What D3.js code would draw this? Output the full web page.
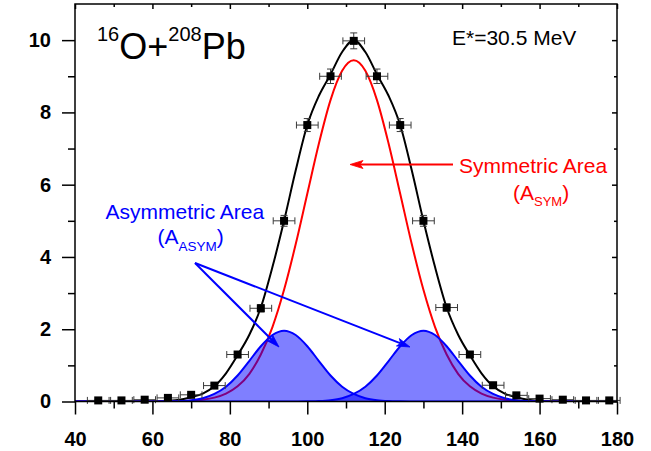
<!DOCTYPE html>
<html>
<head>
<meta charset="utf-8">
<script src="https://cdn.jsdelivr.net/npm/d3@7"></script>
<style>
  html, body { margin: 0; padding: 0; background: #fff; }
  svg { display: block; font-family: "Liberation Sans", Arial, sans-serif; }
</style>
</head>
<body>
<svg id="chart" width="651" height="451"></svg>
<script>
// ---------- data ----------
const xTicks = [40, 60, 80, 100, 120, 140, 160, 180];
const xMinorTicks = [50, 70, 90, 110, 130, 150, 170];
const yTicks = [0, 2, 4, 6, 8, 10];
const yMinorTicks = [1, 3, 5, 7, 9];

const pointX = [46, 52, 58, 64, 70, 76, 82, 88, 94, 100, 106, 112, 118, 124, 130, 136, 142, 148, 154, 160, 166, 172, 178];
const pointY = [0.03, 0.03, 0.05, 0.10, 0.185, 0.44, 1.30, 2.58, 5.0, 7.65, 9.0, 9.98, 9.0, 7.65, 5.0, 2.6, 1.3, 0.45, 0.17, 0.08, 0.05, 0.03, 0.03];
const pointXErr = [2.8, 2.8, 2.8, 2.8, 2.8, 2.8, 2.8, 2.8, 2.8, 2.8, 2.8, 2.8, 2.8, 2.8, 2.8, 2.8, 2.8, 2.8, 2.8, 2.8, 2.8, 2.8, 2.8];
const pointYErr = [0.02, 0.02, 0.02, 0.03, 0.04, 0.06, 0.08, 0.1, 0.15, 0.18, 0.2, 0.22, 0.2, 0.18, 0.15, 0.1, 0.08, 0.06, 0.04, 0.03, 0.02, 0.02, 0.02];

const curveX = [40, 43, 46, 49, 52, 55, 58, 61, 64, 67, 70, 73, 76, 79, 82, 85, 88, 91, 94, 97, 100, 103, 106, 109, 112, 115, 118, 121, 124, 127, 130, 133, 136, 139, 142, 145, 148, 151, 154, 157, 160, 163, 166, 169, 172, 175, 178, 180];
const totalFitY = [0, 0, 0, 0, 0, 0, 0, 0.005, 0.02, 0.05, 0.12, 0.22, 0.42, 0.78, 1.28, 1.84, 2.6, 3.72, 5.0, 6.39, 7.65, 8.46, 9.05, 9.67, 10.0, 9.67, 9.05, 8.46, 7.65, 6.39, 5.0, 3.72, 2.6, 1.84, 1.28, 0.78, 0.42, 0.22, 0.12, 0.05, 0.02, 0.005, 0, 0, 0, 0, 0, 0];
const symY = [0, 0, 0, 0, 0, 0, 0, 0, 0.003, 0.009, 0.022, 0.05, 0.108, 0.22, 0.42, 0.76, 1.30, 2.06, 3.09, 4.35, 5.75, 7.14, 8.34, 9.15, 9.44, 9.15, 8.34, 7.14, 5.75, 4.35, 3.09, 2.06, 1.30, 0.76, 0.42, 0.22, 0.108, 0.05, 0.022, 0.009, 0.003, 0, 0, 0, 0, 0, 0, 0];
const asymLeftY = [0, 0, 0, 0, 0, 0, 0, 0, 0.004, 0.012, 0.036, 0.092, 0.21, 0.41, 0.72, 1.12, 1.53, 1.84, 1.96, 1.84, 1.53, 1.12, 0.72, 0.41, 0.21, 0.092, 0.036, 0.012, 0.004, 0, 0, 0, 0, 0, 0, 0, 0, 0, 0, 0, 0, 0, 0, 0, 0, 0, 0, 0];
const asymRightY = [0, 0, 0, 0, 0, 0, 0, 0, 0, 0, 0, 0, 0, 0, 0, 0, 0, 0, 0, 0, 0.004, 0.012, 0.036, 0.092, 0.21, 0.41, 0.72, 1.12, 1.53, 1.84, 1.96, 1.84, 1.53, 1.12, 0.72, 0.41, 0.21, 0.092, 0.036, 0.012, 0.004, 0, 0, 0, 0, 0, 0, 0];

// ---------- layout ----------
const svg = d3.select("#chart");
const L = 75, R = 617, T = 4, B = 401.5;
const x = d3.scaleLinear().domain([40, 180]).range([L, R]);
const y = d3.scaleLinear().domain([0, 11]).range([B, T]);

svg.append("defs").append("clipPath").attr("id", "plotclip")
  .append("rect").attr("x", L).attr("y", T).attr("width", R - L).attr("height", B - T);

const plot = svg.append("g").attr("clip-path", "url(#plotclip)");

const lineGen = (ys) => d3.line()
  .x((d, i) => x(curveX[i]))
  .y((d, i) => y(ys[i]))
  .curve(d3.curveMonotoneX)(curveX);
const areaGen = (ys) => d3.area()
  .x((d, i) => x(curveX[i]))
  .y0(y(0))
  .y1((d, i) => y(ys[i]))
  .curve(d3.curveMonotoneX)(curveX);

// total fit (black)
plot.append("path").attr("d", lineGen(totalFitY))
  .attr("fill", "none").attr("stroke", "#000").attr("stroke-width", 2);
// symmetric component (red)
plot.append("path").attr("d", lineGen(symY))
  .attr("fill", "none").attr("stroke", "#ff0000").attr("stroke-width", 2);
// asymmetric components (blue, filled)
[asymLeftY, asymRightY].forEach(ys => {
  plot.append("path").attr("d", areaGen(ys))
    .attr("fill", "#0000ff").attr("fill-opacity", 0.5).attr("stroke", "none");
});
[asymLeftY, asymRightY].forEach(ys => {
  plot.append("path").attr("d", lineGen(ys))
    .attr("fill", "none").attr("stroke", "#0000ff").attr("stroke-width", 2);
});

// ---------- error bars & points ----------
const pts = svg.append("g");
const errColor = "#3a3a3a";
pointX.forEach((px, i) => {
  const cx = x(px), cy = y(pointY[i]);
  const xl = x(px - pointXErr[i]), xr = x(px + pointXErr[i]);
  const yt = y(pointY[i] + pointYErr[i]), yb = y(pointY[i] - pointYErr[i]);
  const g = pts.append("g").attr("stroke", errColor).attr("stroke-width", 1).attr("fill", "none");
  g.append("line").attr("x1", xl).attr("x2", xr).attr("y1", cy).attr("y2", cy);
  g.append("line").attr("x1", xl).attr("x2", xl).attr("y1", cy - 3.5).attr("y2", cy + 3.5);
  g.append("line").attr("x1", xr).attr("x2", xr).attr("y1", cy - 3.5).attr("y2", cy + 3.5);
  g.append("line").attr("x1", cx).attr("x2", cx).attr("y1", yt).attr("y2", yb);
  g.append("line").attr("x1", cx - 3.5).attr("x2", cx + 3.5).attr("y1", yt).attr("y2", yt);
  g.append("line").attr("x1", cx - 3.5).attr("x2", cx + 3.5).attr("y1", yb).attr("y2", yb);
  pts.append("rect").attr("x", cx - 4).attr("y", cy - 4).attr("width", 8).attr("height", 8).attr("fill", "#000");
});

// ---------- arrows ----------
function arrow(x1, y1, x2, y2, color) {
  const g = svg.append("g");
  const ang = Math.atan2(y2 - y1, x2 - x1);
  const len = 13, hw = 4;
  const bx = x2 - len * Math.cos(ang), by = y2 - len * Math.sin(ang);
  const nx = -Math.sin(ang), ny = Math.cos(ang);
  const mx = x2 - (len - 3) * Math.cos(ang), my = y2 - (len - 3) * Math.sin(ang);
  g.append("line").attr("x1", x1).attr("y1", y1).attr("x2", mx).attr("y2", my)
    .attr("stroke", color).attr("stroke-width", 2);
  g.append("path")
    .attr("d", `M${x2},${y2} L${bx + nx * hw},${by + ny * hw} L${mx},${my} L${bx - nx * hw},${by - ny * hw} Z`)
    .attr("fill", color).attr("stroke", color).attr("stroke-width", 0.8);
}
arrow(453, 164.5, 350, 164.5, "#ff0000");
arrow(195, 263, 279, 347, "#0000ff");
arrow(195, 263, 410, 347, "#0000ff");

// ---------- axes ----------
const axG = svg.append("g");
const bottom = axG.append("g").attr("transform", `translate(0,${B})`)
  .call(d3.axisBottom(x).tickValues(xTicks).tickSize(13).tickSizeOuter(0).tickPadding(17).tickFormat(d3.format("d")));
axG.append("g").attr("transform", `translate(0,${B})`)
  .call(d3.axisBottom(x).tickValues(xMinorTicks).tickSize(7).tickSizeOuter(0).tickFormat(""));
const left = axG.append("g").attr("transform", `translate(${L},0)`)
  .call(d3.axisLeft(y).tickValues(yTicks).tickSize(13).tickSizeOuter(0).tickPadding(11).tickFormat(d3.format("d")));
axG.append("g").attr("transform", `translate(${L},0)`)
  .call(d3.axisLeft(y).tickValues(yMinorTicks).tickSize(7).tickSizeOuter(0).tickFormat(""));
axG.append("g").attr("transform", `translate(0,${T})`)
  .call(d3.axisTop(x).tickValues(xTicks).tickSize(-5).tickSizeOuter(0).tickFormat(""));
axG.append("g").attr("transform", `translate(0,${T})`)
  .call(d3.axisTop(x).tickValues(xMinorTicks).tickSize(-3).tickSizeOuter(0).tickFormat(""));
axG.append("g").attr("transform", `translate(${R},0)`)
  .call(d3.axisRight(y).tickValues(yTicks).tickSize(-5).tickSizeOuter(0).tickFormat(""));
axG.append("g").attr("transform", `translate(${R},0)`)
  .call(d3.axisRight(y).tickValues(yMinorTicks).tickSize(-3).tickSizeOuter(0).tickFormat(""));
axG.selectAll(".domain").remove();
axG.selectAll(".tick line").attr("stroke", "#000").attr("stroke-width", 1.5);
axG.selectAll(".tick text").attr("fill", "#000")
  .style("font-family", '"Liberation Sans", Arial, sans-serif')
  .style("font-size", "20px").style("font-weight", "bold");

svg.append("rect").attr("x", L).attr("y", T).attr("width", R - L).attr("height", B - T)
  .attr("fill", "none").attr("stroke", "#000").attr("stroke-width", 1.5);

// ---------- texts ----------
const t1 = svg.append("text").attr("x", 97).attr("y", 59).attr("fill", "#000");
t1.append("tspan").attr("font-size", 20).attr("dy", -18).text("16");
t1.append("tspan").attr("font-size", 36).attr("dy", 18).text("O+");
t1.append("tspan").attr("font-size", 20).attr("dy", -18).text("208");
t1.append("tspan").attr("font-size", 36).attr("dy", 18).text("Pb");

svg.append("text").attr("x", 452).attr("y", 44.5).attr("font-size", 21).attr("fill", "#000").text("E*=30.5 MeV");

svg.append("text").attr("x", 459).attr("y", 172.5).attr("font-size", 21).attr("fill", "#ff0000").text("Symmetric Area");
const t3 = svg.append("text").attr("x", 513).attr("y", 199.5).attr("font-size", 21).attr("fill", "#ff0000");
t3.append("tspan").text("(A");
t3.append("tspan").attr("font-size", 13).attr("dy", 6).text("SYM");
t3.append("tspan").attr("dy", -6).text(")");

svg.append("text").attr("x", 105.5).attr("y", 219).attr("font-size", 21).attr("fill", "#0000ff").text("Asymmetric Area");
const t4 = svg.append("text").attr("x", 157.5).attr("y", 244).attr("font-size", 21).attr("fill", "#0000ff");
t4.append("tspan").text("(A");
t4.append("tspan").attr("font-size", 13.5).attr("dy", 7).text("ASYM");
t4.append("tspan").attr("dy", -7).text(")");
</script>
</body>
</html>
